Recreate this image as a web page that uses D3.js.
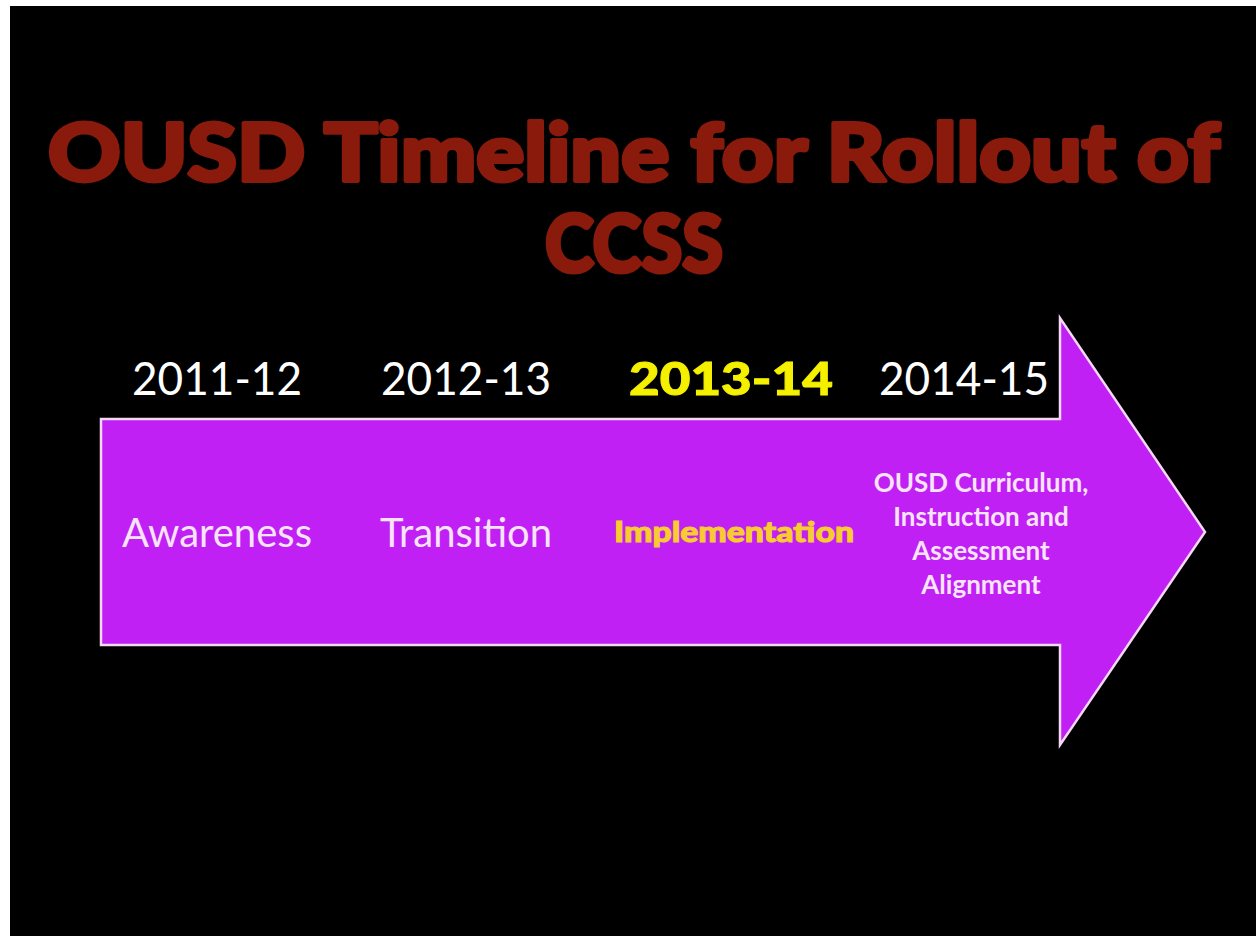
<!DOCTYPE html>
<html lang="en">
<head>
    <meta charset="UTF-8">
    <title>OUSD Timeline for Rollout of CCSS</title>
    <script src="https://d3js.org/d3.v7.min.js"></script>
    <style>
        body { margin: 0; background: #fff; }
    </style>
</head>
<body>
    <script>
        // timeline data
        var years = ["2011-12", "2012-13", "2013-14", "2014-15"];
        var phases = [
            ["Awareness"],
            ["Transition"],
            ["Implementation"],
            ["OUSD Curriculum,", "Instruction and", "Assessment", "Alignment"]
        ];
        var highlight = [false, false, true, false];
        var titleLines = ["OUSD Timeline for Rollout of", "CCSS"];

        var width = 1256, height = 936;

        var svg = d3.select("body").append("svg")
            .attr("width", width)
            .attr("height", height);

        // black slide with a thin white margin top and left
        svg.append("rect")
            .attr("x", 10).attr("y", 6)
            .attr("width", width - 10).attr("height", height - 6)
            .attr("fill", "#000");

        // title (stroked a bit to get the heavy look)
        svg.selectAll("text.title")
            .data(titleLines)
            .enter().append("text")
            .attr("class", "title")
            .attr("x", 634)
            .attr("y", function(d, i) { return 181 + i * 91; })
            .attr("text-anchor", "middle")
            .attr("fill", "#8a1a0c")
            .attr("stroke", "#8a1a0c")
            .attr("stroke-width", 4)
            .attr("stroke-linejoin", "round")
            .style("font-family", "Lato, 'DejaVu Sans', sans-serif")
            .style("font-weight", 900)
            .style("font-size", "80px")
            .attr("textLength", function(d, i) { return i === 0 ? 1172 : 178; })
            .attr("lengthAdjust", "spacingAndGlyphs")
            .text(function(d) { return d; });

        // arrow geometry
        var bodyLeft = 101, bodyRight = 1060, bodyTop = 419, bodyBottom = 645;
        var headTop = 318, headBottom = 745, tipX = 1205;
        var tipY = (bodyTop + bodyBottom) / 2;

        var arrow = d3.path();
        arrow.moveTo(bodyLeft, bodyTop);
        arrow.lineTo(bodyRight, bodyTop);
        arrow.lineTo(bodyRight, headTop);
        arrow.lineTo(tipX, tipY);
        arrow.lineTo(bodyRight, headBottom);
        arrow.lineTo(bodyRight, bodyBottom);
        arrow.lineTo(bodyLeft, bodyBottom);
        arrow.closePath();

        svg.append("path")
            .attr("d", arrow.toString())
            .attr("fill", "#c020f4")
            .attr("stroke", "#f4d8f4")
            .attr("stroke-width", 2.5);

        // columns across the timeline
        var x = d3.scalePoint()
            .domain(years)
            .range([217, 964]);

        var fontStack = "'Gill Sans', 'Lato', 'DejaVu Sans', sans-serif";

        svg.selectAll("text.year")
            .data(years)
            .enter().append("text")
            .attr("class", "year")
            .attr("x", function(d, i) { return x(d) + (highlight[i] ? 16 : 0); })
            .attr("y", 395)
            .attr("text-anchor", "middle")
            .attr("fill", function(d, i) { return highlight[i] ? "#f4f000" : "#fff"; })
            .attr("stroke", function(d, i) { return highlight[i] ? "#f4f000" : "none"; })
            .attr("stroke-width", 1)
            .style("font-family", fontStack)
            .style("font-weight", function(d, i) { return highlight[i] ? 900 : 400; })
            .style("font-size", "46px")
            .attr("textLength", function(d, i) { return highlight[i] ? 204 : 170; })
            .attr("lengthAdjust", "spacingAndGlyphs")
            .text(function(d) { return d; });

        var labels = svg.selectAll("g.phase")
            .data(phases)
            .enter().append("g")
            .attr("class", "phase")
            .attr("transform", function(d, i) {
                var dx = i === 2 ? 19 : (i === 3 ? 17 : 0);
                return "translate(" + (x(years[i]) + dx) + ",0)";
            });

        labels.each(function(lines, i) {
            var g = d3.select(this);
            var multi = lines.length > 1;
            var size = multi ? 26 : (highlight[i] ? 29 : 40);
            var lineH = 34;
            var y0 = multi ? 492 : 547;
            if (highlight[i]) y0 = 542;
            var col = highlight[i] ? "#f8cc30" : "#f8e4f8";
            var t = g.selectAll("text")
                .data(lines)
                .enter().append("text")
                .attr("x", 0)
                .attr("y", function(d, j) { return y0 + j * lineH; })
                .attr("text-anchor", "middle")
                .attr("fill", col)
                .attr("stroke", highlight[i] ? col : "none")
                .attr("stroke-width", 1)
                .style("font-family", fontStack)
                .style("font-weight", highlight[i] ? 900 : (multi ? 700 : 400))
                .style("font-size", size + "px")
                .text(function(d) { return d; });
            if (highlight[i]) {
                t.attr("textLength", 240).attr("lengthAdjust", "spacingAndGlyphs");
            }
        });
    </script>
</body>
</html>
